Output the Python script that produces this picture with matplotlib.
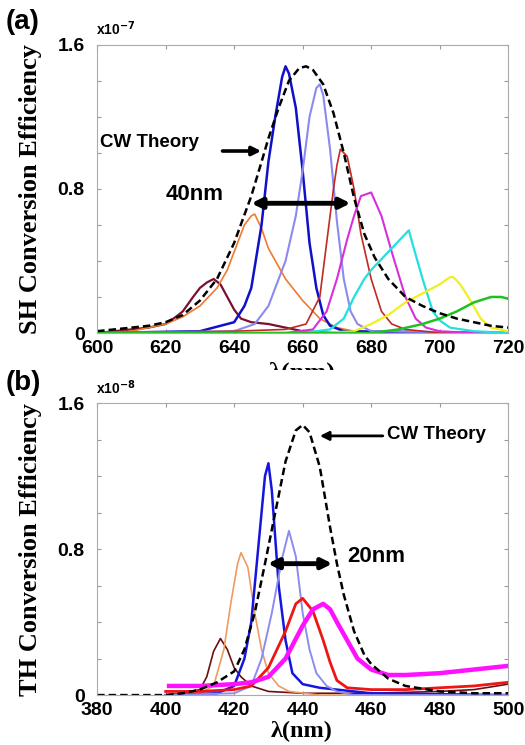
import matplotlib
matplotlib.use('Agg')
import matplotlib.pyplot as plt
from matplotlib.transforms import Bbox, TransformedBbox

# ---- (a) SH spectra, values in units of 1e-7 ----
sh_cw_x = [600, 605, 610, 615, 620, 625, 630, 635, 640, 645, 648, 650, 653, 656, 659, 661, 663,
           666, 669, 672, 675, 678, 681, 685, 690, 695, 700, 705, 710, 715, 720]
sh_cw_y = [0.01, 0.02, 0.03, 0.04, 0.06, 0.1, 0.18, 0.3, 0.5, 0.76, 0.95, 1.08, 1.25, 1.4, 1.47, 1.48, 1.46,
           1.38, 1.22, 1.0, 0.75, 0.55, 0.42, 0.3, 0.2, 0.15, 0.11, 0.08, 0.06, 0.04, 0.03]

sh_x = {
    'maroon': [600, 610, 615, 620, 623, 625, 628, 630, 632, 634, 636, 638, 640, 642, 645, 650, 655, 660, 670, 720],
    'orange': [600, 610, 615, 620, 625, 630, 635, 638, 640, 643, 645, 646, 648, 650, 655, 660, 665, 670, 675, 690, 720],
    'blue': [600, 630, 640, 643, 645, 648, 650, 652, 654, 655, 656, 658, 660, 662, 664, 666, 668, 672, 720],
    'lightblue': [600, 640, 646, 650, 655, 658, 660, 662, 664, 665, 666, 668, 670, 672, 674, 676, 680, 720],
    'red': [600, 640, 655, 661, 665, 667, 669, 670, 671, 673, 675, 677, 680, 683, 686, 690, 700, 720],
    'magenta': [600, 655, 663, 667, 670, 673, 675, 677, 680, 683, 686, 690, 693, 696, 700, 710, 720],
    'cyan': [600, 660, 668, 672, 675, 678, 680, 685, 690, 691, 692, 695, 698, 700, 703, 710, 720],
    'yellow': [600, 665, 675, 680, 685, 690, 695, 700, 703, 704, 706, 709, 712, 715, 720],
    'green': [600, 680, 688, 695, 700, 705, 710, 715, 718, 720],
}
sh_y = {
    'maroon': [0.0, 0.02, 0.03, 0.05, 0.09, 0.12, 0.2, 0.25, 0.28, 0.3, 0.27, 0.2, 0.13, 0.08, 0.06, 0.05, 0.03, 0.01, 0.0, 0.0],
    'orange': [0.0, 0.01, 0.03, 0.05, 0.09, 0.15, 0.25, 0.35, 0.45, 0.6, 0.65, 0.66, 0.58, 0.47, 0.3, 0.18, 0.08, 0.03, 0.01, 0.0, 0.0],
    'blue': [0.0, 0.01, 0.06, 0.15, 0.25, 0.6, 0.95, 1.2, 1.42, 1.48, 1.44, 1.25, 0.9, 0.5, 0.25, 0.1, 0.04, 0.01, 0.0],
    'lightblue': [0.0, 0.01, 0.05, 0.15, 0.4, 0.65, 0.9, 1.2, 1.36, 1.38, 1.32, 1.02, 0.62, 0.3, 0.12, 0.05, 0.01, 0.0],
    'red': [0.0, 0.01, 0.02, 0.05, 0.2, 0.5, 0.8, 0.93, 1.02, 0.98, 0.8, 0.55, 0.3, 0.12, 0.05, 0.02, 0.0, 0.0],
    'magenta': [0.0, 0.0, 0.02, 0.12, 0.3, 0.52, 0.65, 0.76, 0.78, 0.65, 0.45, 0.2, 0.08, 0.03, 0.01, 0.0, 0.0],
    'cyan': [0.0, 0.0, 0.02, 0.08, 0.2, 0.3, 0.35, 0.45, 0.55, 0.57, 0.5, 0.3, 0.12, 0.07, 0.03, 0.01, 0.0],
    'yellow': [0.0, 0.0, 0.01, 0.05, 0.1, 0.17, 0.22, 0.27, 0.31, 0.31, 0.27, 0.18, 0.08, 0.03, 0.01],
    'green': [0.0, 0.0, 0.02, 0.05, 0.08, 0.12, 0.17, 0.2, 0.2, 0.19],
}
sh_colors = {'maroon': '#7a1030', 'orange': '#f07a30', 'blue': '#1010c8', 'lightblue': '#8a8af0',
             'red': '#c02a20', 'magenta': '#d830d8', 'cyan': '#20e0e0', 'yellow': '#f0f020',
             'green': '#20c020'}
sh_lw = {'maroon': 1.6, 'orange': 1.2, 'blue': 1.8, 'lightblue': 1.5, 'red': 1.2,
         'magenta': 1.5, 'cyan': 1.6, 'yellow': 1.6, 'green': 1.8}

# ---- (b) TH spectra, values in units of 1e-8 ----
th_cw_x = [380, 390, 400, 405, 410, 415, 420, 423, 426, 429, 432, 435, 438, 440, 442, 445, 448,
           450, 452, 455, 458, 460, 465, 470, 480, 490, 500]
th_cw_y = [0.0, 0.0, 0.0, 0.01, 0.03, 0.07, 0.13, 0.25, 0.45, 0.72, 1.0, 1.28, 1.45, 1.48, 1.44, 1.25, 0.92,
           0.72, 0.55, 0.35, 0.22, 0.17, 0.09, 0.05, 0.02, 0.01, 0.01]

th_x = {
    'brown': [400, 405, 410, 412, 414, 416, 418, 420, 422, 425, 430, 440, 460, 480, 490, 500],
    'orange': [400, 410, 414, 417, 419, 421, 422, 424, 426, 428, 430, 433, 436, 445, 500],
    'blue': [400, 415, 420, 423, 425, 427, 429, 430, 431, 433, 435, 437, 440, 445, 450, 455, 460, 500],
    'lightblue': [400, 420, 425, 428, 431, 434, 436, 438, 440, 442, 444, 447, 450, 455, 500],
    'red': [400, 410, 420, 425, 430, 435, 438, 440, 443, 446, 448, 450, 453, 460, 470, 480, 490, 500],
    'magenta': [401, 410, 420, 425, 430, 435, 440, 443, 446, 448, 450, 453, 456, 460, 465, 470, 480, 490, 500],
}
th_y = {
    'brown': [0.0, 0.01, 0.03, 0.1, 0.24, 0.31, 0.25, 0.15, 0.1, 0.05, 0.02, 0.01, 0.01, 0.02, 0.03, 0.06],
    'orange': [0.0, 0.01, 0.05, 0.25, 0.5, 0.72, 0.78, 0.7, 0.45, 0.25, 0.12, 0.05, 0.02, 0.0, 0.0],
    'blue': [0.0, 0.01, 0.05, 0.2, 0.4, 0.8, 1.2, 1.27, 1.12, 0.6, 0.3, 0.12, 0.06, 0.04, 0.03, 0.02, 0.01, 0.0],
    'lightblue': [0.0, 0.01, 0.05, 0.2, 0.45, 0.75, 0.9, 0.76, 0.45, 0.25, 0.12, 0.05, 0.02, 0.0, 0.0],
    'red': [0.02, 0.02, 0.03, 0.05, 0.15, 0.35, 0.5, 0.53, 0.46, 0.3, 0.18, 0.08, 0.04, 0.03, 0.03, 0.04, 0.05, 0.07],
    'magenta': [0.05, 0.05, 0.06, 0.07, 0.1, 0.2, 0.38, 0.47, 0.5, 0.47, 0.4, 0.3, 0.2, 0.14, 0.11, 0.11, 0.12, 0.14, 0.16],
}
th_colors = {'brown': '#6a1010', 'orange': '#f09a60', 'blue': '#1515e0', 'lightblue': '#8c8cf0',
             'red': '#ee1515', 'magenta': '#ff10ff'}
th_lw = {'brown': 1.2, 'orange': 1.2, 'blue': 1.8, 'lightblue': 1.4, 'red': 2.0, 'magenta': 3.2}

sans = ['Liberation Sans', 'DejaVu Sans']
serif = ['Liberation Serif', 'DejaVu Serif']

fig = plt.figure(figsize=(5.25, 7.45), dpi=100)
ax1 = fig.add_axes([0.185, 0.553, 0.783, 0.387])
ax2 = fig.add_axes([0.185, 0.067, 0.783, 0.392])


def style(ax, xlim, xticks, ylabel):
    ax.set_xlim(*xlim)
    ax.set_ylim(0, 1.6)
    ax.set_xticks(xticks)
    ax.set_xticklabels([str(t) for t in xticks], fontsize=14, fontweight='bold', family=sans)
    ax.set_yticks([0, 0.2, 0.4, 0.6, 0.8, 1.0, 1.2, 1.4, 1.6])
    ax.set_yticklabels(['0', '', '', '', '0.8', '', '', '', '1.6'], fontsize=14, fontweight='bold', family=sans)
    ax.tick_params(direction='in', top=True, right=True, length=3, color='#999999')
    ax.tick_params(axis='x', pad=5)
    ax.tick_params(axis='y', pad=9)
    for s in ax.spines.values():
        s.set_color('#aaaaaa')
        s.set_linewidth(0.8)
    ax.set_ylabel(ylabel, fontsize=19, fontweight='bold', family=serif)
    ax.yaxis.set_label_coords(-0.133, 0.5)


style(ax1, (600, 720), [600, 620, 640, 660, 680, 700, 720], 'SH Conversion Efficiency')
style(ax2, (380, 500), [380, 400, 420, 440, 460, 480, 500], 'TH Conversion Efficiency')

for k in sh_x:
    ax1.plot(sh_x[k], sh_y[k], color=sh_colors[k], lw=sh_lw[k], solid_joinstyle='round')
ax1.plot(sh_cw_x, sh_cw_y, 'k--', lw=1.8, dashes=(3, 1.6))

for k in th_x:
    ax2.plot(th_x[k], th_y[k], color=th_colors[k], lw=th_lw[k], solid_joinstyle='round')
ax2.plot(th_cw_x, th_cw_y, 'k--', lw=1.8, dashes=(3, 1.6))

# annotations (a)
ax1.text(600.8, 1.06, 'CW Theory', fontsize=13.5, fontweight='bold', family=sans, va='center')
ax1.annotate('', xy=(648.7, 1.01), xytext=(635.8, 1.01),
             arrowprops=dict(arrowstyle='-|>', lw=2.6, color='k', mutation_scale=13))
ax1.text(628.5, 0.77, '40nm', fontsize=16, fontweight='bold', family=sans, ha='center', va='center')
ax1.annotate('', xy=(644.2, 0.72), xytext=(674.8, 0.72),
             arrowprops=dict(arrowstyle='<|-|>', lw=3.5, color='k', mutation_scale=15))

# annotations (b)
ax2.text(464.6, 1.43, 'CW Theory', fontsize=13.5, fontweight='bold', family=sans, va='center')
ax2.annotate('', xy=(444.2, 1.42), xytext=(464.2, 1.42),
             arrowprops=dict(arrowstyle='-|>', lw=2.0, color='k', mutation_scale=13))
ax2.text(453, 0.76, '20nm', fontsize=16, fontweight='bold', family=sans, va='center')
ax2.annotate('', xy=(429, 0.72), xytext=(449.5, 0.72),
             arrowprops=dict(arrowstyle='<|-|>', lw=3.5, color='k', mutation_scale=15))

# panel labels and exponents
fig.text(0.01, 0.988, '(a)', fontsize=20, fontweight='bold', family=sans, va='top')
fig.text(0.01, 0.503, '(b)', fontsize=20, fontweight='bold', family=sans, va='top')
fig.text(0.183, 0.962, r'x10$^{\mathbf{-7}}$', fontsize=10, fontweight='bold', family=sans, va='center')
fig.text(0.183, 0.480, r'x10$^{\mathbf{-8}}$', fontsize=10, fontweight='bold', family=sans, va='center')

# x labels; the upper one is cut by panel (b) as in the original layout
lab1 = fig.text(0.575, 0.4995, 'λ(nm)', fontsize=19, fontweight='bold', family=serif, ha='center', va='center')
lab1.set_clip_box(TransformedBbox(Bbox([[0, 0.504], [1, 1]]), fig.transFigure))
lab1.set_clip_on(True)
fig.text(0.575, 0.004, 'λ(nm)', fontsize=17.5, fontweight='bold', family=serif, ha='center', va='bottom')

fig.savefig('out.png', dpi=100, facecolor='white')
